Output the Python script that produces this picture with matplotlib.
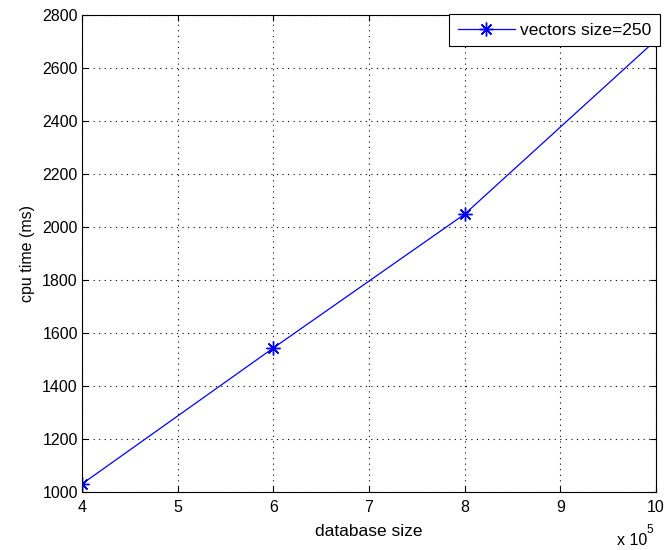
import matplotlib
matplotlib.use("Agg")
import matplotlib.pyplot as plt
from matplotlib.ticker import FuncFormatter, MultipleLocator

# Measured CPU time against database size
db_size = [400000, 600000, 800000, 1000000]
cpu_ms = [1030, 1543, 2048, 2705]
series_label = "vectors size=250"

plt.rcParams['font.family'] = ['Liberation Sans', 'DejaVu Sans']

fig = plt.figure(figsize=(6.66, 5.5), dpi=100)
ax = fig.add_axes([0.123, 0.1055, 0.862, 0.8675])

# asterisk marker: four strokes through the centre
ax.plot(db_size, cpu_ms, color='#0000ff', linewidth=0.9, marker=(8, 2, 0),
        markersize=10, markeredgewidth=1.0, label=series_label)

ax.set_xlim(400000, 1000000)
ax.set_ylim(1000, 2800)
ax.xaxis.set_major_locator(MultipleLocator(100000))
ax.yaxis.set_major_locator(MultipleLocator(200))
ax.xaxis.set_major_formatter(FuncFormatter(lambda v, p: f"{v / 1e5:g}"))

ax.grid(True, color='black', linestyle=(0, (1, 4)), linewidth=0.8)
ax.tick_params(direction='in', top=True, right=True, labelsize=11.5,
               length=4, width=0.8, colors='black')
ax.tick_params(axis='x', pad=6)
ax.tick_params(axis='y', pad=3)
for s in ax.spines.values():
    s.set_linewidth(0.8)

ax.set_xlabel("database size", fontsize=12.5, labelpad=6)
ax.set_ylabel("cpu time (ms)", fontsize=11.5, labelpad=5)

# x-axis multiplier, drawn below the last tick label
fig.text(0.926, 5 / 550, "x 10", fontsize=11.5, ha='left', va='baseline')
fig.text(0.970, 17 / 550, "5", fontsize=8.5, ha='left', va='baseline')

leg = ax.legend(loc='upper right', bbox_to_anchor=(0.991, 0.975),
                bbox_transform=fig.transFigure, fontsize=12.5,
                fancybox=False, framealpha=1, edgecolor='black',
                handlelength=3.3, borderpad=0.5, handletextpad=0.3,
                borderaxespad=0)
leg.get_frame().set_linewidth(0.8)

fig.savefig("out.png", dpi=100)
